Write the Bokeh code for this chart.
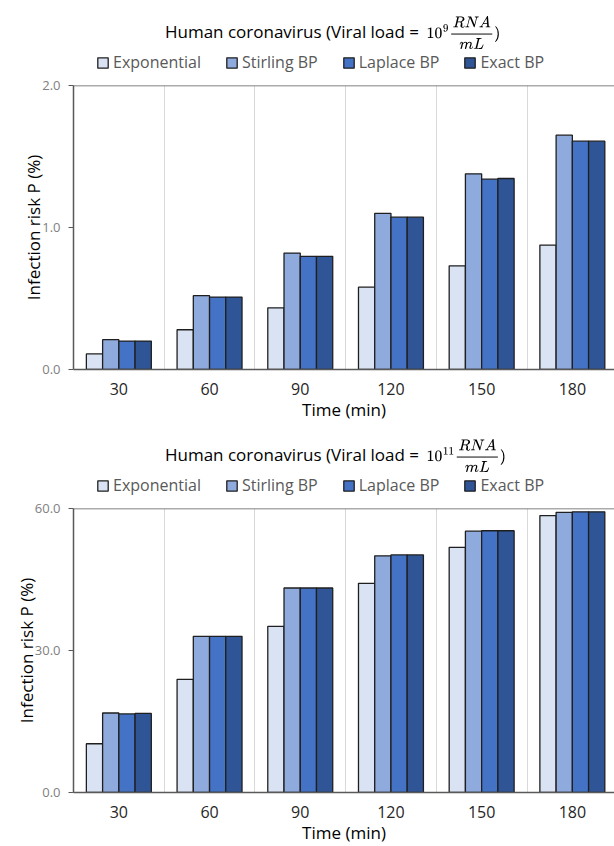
from bokeh.plotting import figure
from bokeh.models import (ColumnDataSource, Range1d, FixedTicker, Span, Label, Legend,
                          LegendItem, TeX, PrintfTickFormatter)
from bokeh.transform import dodge
from bokeh.layouts import column
from bokeh.embed import file_html
from bokeh.resources import INLINE

# ---------------- data ----------------
times = ["30", "60", "90", "120", "150", "180"]
series = ["Exponential", "Stirling BP", "Laplace BP", "Exact BP"]
colors = ["#DAE3F3", "#8FAADC", "#4472C4", "#2F5597"]

# Viral load = 1e9 RNA/mL  (infection risk, %)
low_exponential = [0.11, 0.28, 0.434, 0.58, 0.73, 0.876]
low_stirling = [0.21, 0.52, 0.82, 1.10, 1.378, 1.65]
low_laplace = [0.20, 0.51, 0.797, 1.073, 1.34, 1.608]
low_exact = [0.20, 0.51, 0.797, 1.073, 1.345, 1.608]

# Viral load = 1e11 RNA/mL  (infection risk, %)
high_exponential = [10.3, 23.9, 35.1, 44.2, 51.8, 58.5]
high_stirling = [16.8, 33.0, 43.2, 50.0, 55.2, 59.2]
high_laplace = [16.6, 33.0, 43.2, 50.2, 55.3, 59.3]
high_exact = [16.7, 33.0, 43.2, 50.2, 55.3, 59.3]

low_ticks = [0, 1, 2]
high_ticks = [0, 30, 60]

FONT = "Open Sans"
W = 614
HEAD_H = 73
CHART_H = 350
LEFT = 73
TOP = 12
BOTTOM = 51
AXIS_COL = "#595959"


def make_header(exponent):
    h = figure(width=W, height=HEAD_H, output_backend="svg", toolbar_location=None,
               x_range=Range1d(0, W - LEFT), y_range=Range1d(0, HEAD_H),
               x_axis_type=None, y_axis_type=None, min_border=0,
               min_border_left=LEFT, min_border_right=0, min_border_top=0, min_border_bottom=0)
    h.outline_line_color = None
    h.grid.visible = False
    ty = HEAD_H - 31
    h.add_layout(Label(x=423 - LEFT, y=ty, x_units="screen", y_units="screen",
                       text="Human coronavirus (Viral load = ", text_font=FONT,
                       text_font_size="17px", text_color="#000000",
                       text_align="right", text_baseline="middle"))
    h.add_layout(Label(x=426 - LEFT, y=ty - 1, x_units="screen", y_units="screen",
                       text=TeX(text=r"10^{%s}\frac{RNA}{mL})" % exponent),
                       text_font_size="12.5px", text_color="#000000",
                       text_align="left", text_baseline="middle"))
    items = []
    for name, col in zip(series, colors):
        r = h.vbar(x=[0], top=[0], width=1, fill_color=col, line_color="#1F1F1F",
                   line_width=1.3, visible=False)
        items.append(LegendItem(label=name, renderers=[r]))
    legend = Legend(items=items, orientation="horizontal", location=(96 - LEFT, 0),
                    label_text_font=FONT, label_text_font_size="16px",
                    label_text_color="#595959", glyph_width=13, glyph_height=13,
                    label_standoff=4, spacing=24, padding=0, margin=0,
                    border_line_color=None, background_fill_alpha=0,
                    inactive_fill_alpha=0, label_height=13, click_policy="none")
    h.add_layout(legend)
    return h


def make_chart(values, ymax, yticks):
    centers = [i + 0.5 for i in range(len(times))]
    data = {"xc": centers, "time": times}
    for name, vals in zip(series, values):
        data[name] = vals
    src = ColumnDataSource(data)

    p = figure(width=W, height=CHART_H, output_backend="svg", toolbar_location=None,
               x_range=Range1d(0, (W - LEFT) / 90.7), y_range=Range1d(0, ymax),
               min_border_left=LEFT, min_border_right=0,
               min_border_top=TOP, min_border_bottom=BOTTOM)
    p.outline_line_color = None
    p.background_fill_color = "white"
    p.border_fill_color = "white"

    bw = 0.179
    offsets = [-1.5 * bw, -0.5 * bw, 0.5 * bw, 1.5 * bw]
    for name, col, off in zip(series, colors, offsets):
        p.vbar(x=dodge("xc", off, range=p.x_range), top=name, width=bw, bottom=0,
               source=src, fill_color=col, line_color="#1F1F1F", line_width=1.3)

    # top border line
    p.add_layout(Span(location=ymax, dimension="width", line_color=AXIS_COL, line_width=1.5))

    # grids
    p.ygrid.grid_line_color = None
    p.xgrid.ticker = FixedTicker(ticks=[i for i in range(1, len(times))])
    p.xgrid.grid_line_color = "#D9D9D9"
    p.xgrid.grid_line_width = 1

    # x axis
    xa = p.xaxis[0]
    xa.ticker = FixedTicker(ticks=centers)
    xa.major_label_overrides = {c: t for c, t in zip(centers, times)}
    xa.major_tick_line_color = None
    xa.minor_tick_line_color = None
    xa.axis_line_color = AXIS_COL
    xa.axis_line_width = 1.5
    xa.major_label_text_font = FONT
    xa.major_label_text_font_size = "16px"
    xa.major_label_text_color = "#262626"
    xa.major_label_standoff = 7
    xa.axis_label = "Time (min)"
    xa.axis_label_text_font = FONT
    xa.axis_label_text_font_size = "17px"
    xa.axis_label_text_font_style = "normal"
    xa.axis_label_text_color = "#000000"
    xa.axis_label_standoff = 0

    # y axis
    ya = p.yaxis[0]
    ya.ticker = FixedTicker(ticks=yticks)
    ya.formatter = PrintfTickFormatter(format="%.1f")
    ya.minor_tick_line_color = None
    ya.major_tick_out = 5
    ya.major_tick_in = 0
    ya.major_tick_line_color = AXIS_COL
    ya.axis_line_color = AXIS_COL
    ya.axis_line_width = 1.5
    ya.major_label_text_font = FONT
    ya.major_label_text_font_size = "13px"
    ya.major_label_text_color = "#808080"
    ya.major_label_standoff = 8
    ya.axis_label = "Infection risk P (%)"
    ya.axis_label_text_font = FONT
    ya.axis_label_text_font_size = "17px"
    ya.axis_label_text_font_style = "normal"
    ya.axis_label_text_color = "#000000"
    ya.axis_label_standoff = -6
    return p


top_head = make_header("9")
top = make_chart([low_exponential, low_stirling, low_laplace, low_exact], 2.0, low_ticks)
bottom_head = make_header("11")
bottom = make_chart([high_exponential, high_stirling, high_laplace, high_exact], 60.0, high_ticks)

layout = column(top_head, top, bottom_head, bottom, spacing=0)
open("out.html", "w").write(file_html(layout, INLINE))
